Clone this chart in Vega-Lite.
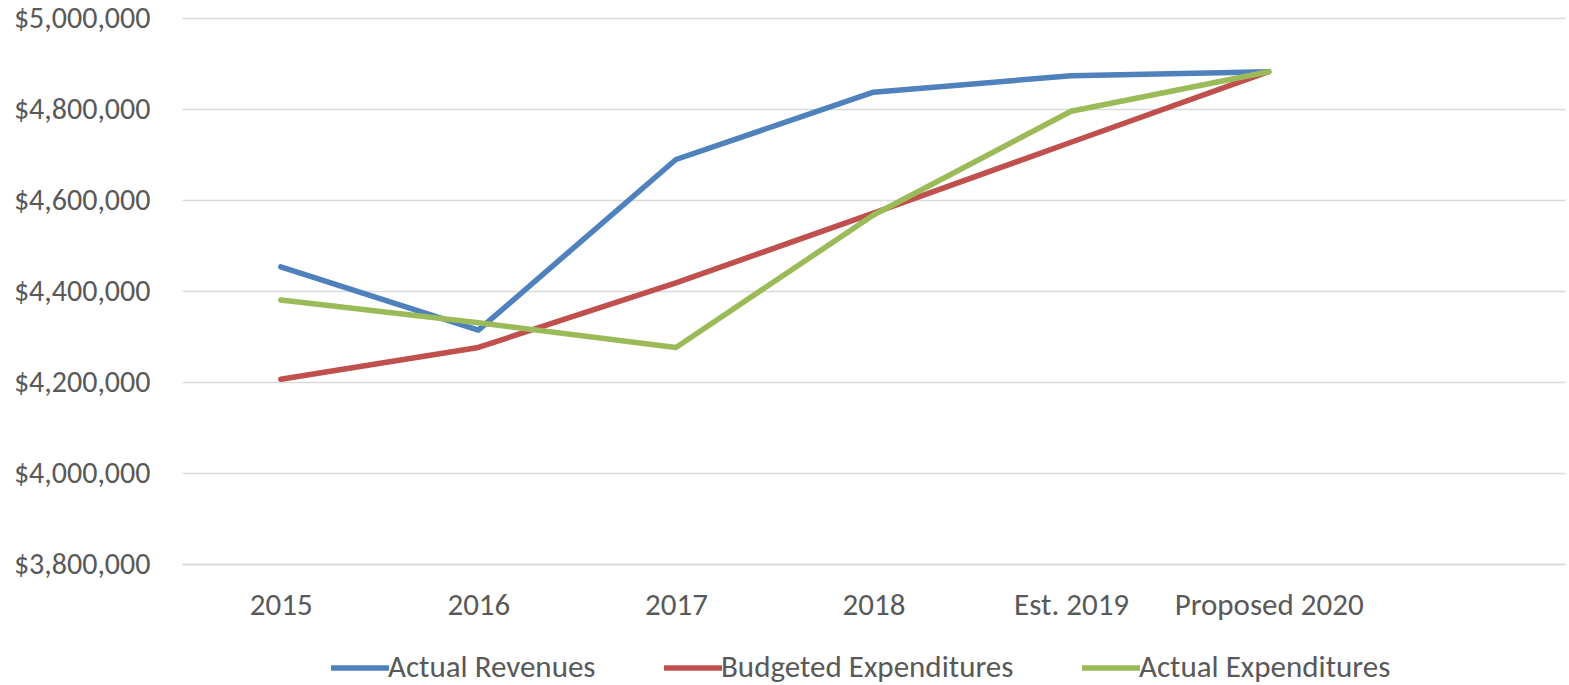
{
  "$schema": "https://vega.github.io/schema/vega-lite/v6.json",
  "autosize": {"type": "none"},
  "width": 1383,
  "height": 546,
  "padding": {"left": 182, "top": 18, "right": 4, "bottom": 121},
  "background": "white",
  "config": {
    "font": "Carlito, Liberation Sans Narrow, Open Sans",
    "view": {"stroke": null}
  },
  "data": {
    "values": [
      {"year": "2015", "series": "Actual Revenues", "value": 4453000},
      {"year": "2016", "series": "Actual Revenues", "value": 4314000},
      {"year": "2017", "series": "Actual Revenues", "value": 4689000},
      {"year": "2018", "series": "Actual Revenues", "value": 4837000},
      {"year": "Est. 2019", "series": "Actual Revenues", "value": 4873000},
      {"year": "Proposed 2020", "series": "Actual Revenues", "value": 4882000},
      {"year": "2015", "series": "Budgeted Expenditures", "value": 4206000},
      {"year": "2016", "series": "Budgeted Expenditures", "value": 4276000},
      {"year": "2017", "series": "Budgeted Expenditures", "value": 4418000},
      {"year": "2018", "series": "Budgeted Expenditures", "value": 4571000},
      {"year": "Est. 2019", "series": "Budgeted Expenditures", "value": 4727000},
      {"year": "Proposed 2020", "series": "Budgeted Expenditures", "value": 4882000},
      {"year": "2015", "series": "Actual Expenditures", "value": 4380000},
      {"year": "2016", "series": "Actual Expenditures", "value": 4330000},
      {"year": "2017", "series": "Actual Expenditures", "value": 4276000},
      {"year": "2018", "series": "Actual Expenditures", "value": 4567000},
      {"year": "Est. 2019", "series": "Actual Expenditures", "value": 4795000},
      {"year": "Proposed 2020", "series": "Actual Expenditures", "value": 4882000}
    ]
  },
  "mark": {"type": "line", "strokeWidth": 5.5, "strokeCap": "round", "strokeJoin": "round"},
  "encoding": {
    "x": {
      "field": "year",
      "type": "ordinal",
      "scale": {"type": "point", "domain": ["2015", "2016", "2017", "2018", "Est. 2019", "Proposed 2020", " "], "padding": 0.5},
      "axis": {
        "title": null,
        "labelAngle": 0,
        "labelFontSize": 31,
        "labelColor": "#595959",
        "labelPadding": 26,
        "labelLimit": 0,
        "ticks": false,
        "domain": true,
        "domainColor": "#d9d9d9",
        "domainWidth": 1.5,
        "grid": false
      }
    },
    "y": {
      "field": "value",
      "type": "quantitative",
      "scale": {"domain": [3800000, 5000000], "nice": false, "zero": false},
      "axis": {
        "title": null,
        "values": [3800000, 4000000, 4200000, 4400000, 4600000, 4800000, 5000000],
        "format": "$,.0f",
        "labelFontSize": 30,
        "labelColor": "#595959",
        "labelPadding": 32,
        "labelLimit": 0,
        "ticks": false,
        "domain": false,
        "grid": true,
        "gridColor": "#d9d9d9",
        "gridWidth": 1.5
      }
    },
    "color": {
      "field": "series",
      "type": "nominal",
      "scale": {
        "domain": ["Actual Revenues", "Budgeted Expenditures", "Actual Expenditures"],
        "range": ["#4F81BD", "#C0504D", "#9BBB59"]
      },
      "legend": {
        "title": null,
        "orient": "none",
        "direction": "horizontal",
        "legendX": 146,
        "legendY": 618,
        "symbolType": "stroke",
        "symbolSize": 3364,
        "symbolStrokeWidth": 5.5,
        "labelFontSize": 31,
        "labelLimit": 0,
        "labelColor": "#595959",
        "labelOffset": -4,
        "columnPadding": 57,
        "symbolOffset": 0,
        "padding": 0
      }
    }
  }
}
